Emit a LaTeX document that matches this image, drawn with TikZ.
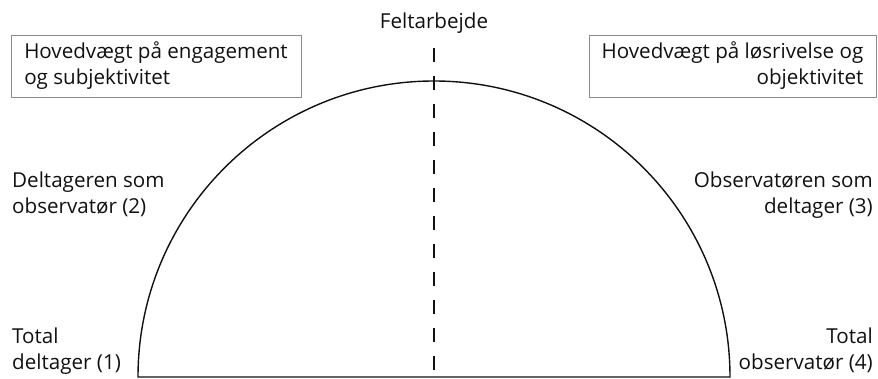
\documentclass[tikz,border=0pt]{standalone}
\usepackage{fontspec}
\setmainfont{Open Sans}
\usepackage{tikz}
\usetikzlibrary{positioning}
\definecolor{ink}{HTML}{111111}
\definecolor{frame}{HTML}{8C8C8C}

\begin{document}
\begin{tikzpicture}[x=1pt,y=-1pt,
  label/.style={inner sep=0pt,text=ink,font=\fontsize{20.6}{26}\selectfont},
  claim/.style={rectangle,draw=frame,line width=0.9pt,minimum height=62pt,inner sep=0pt,text=ink,font=\fontsize{20.6}{26}\selectfont}]
\useasboundingbox (0,0) rectangle (878,379);
% semicircle and its axis
\coordinate (c) at (434,377);
\coordinate (l) at (138,377);
\coordinate (r) at (730,377);
\draw[ink,line width=1.4pt] (l) arc[start angle=180,end angle=0,radius=296pt] -- cycle;
\node[label,anchor=base] (felt) at (434,29) {Feltarbejde};
\draw[ink,line width=2pt,dash pattern=on 14pt off 14pt] ([yshift=-14pt]felt.south) -- (c);
% the two emphasis boxes
\node[claim,minimum width=290pt,align=left] (engage) at (156,66) {Hovedvægt på engagement\\og subjektivitet};
\node[claim,minimum width=287pt,align=right] (detach) at (732.5,66) {Hovedvægt på løsrivelse og\\objektivitet};
% roles along the arc
\node[label,anchor=north west,align=left] (role2) at (12,172) {Deltageren som\\observatør (2)};
\node[label,anchor=north west,align=left] (role1) at (12,328) {Total\\deltager (1)};
\node[label,anchor=north east,align=right] (role3) at (873,172) {Observatøren som\\deltager (3)};
\node[label,anchor=north east,align=right] (role4) at (873,328) {Total\\observatør (4)};
\end{tikzpicture}
\end{document}
